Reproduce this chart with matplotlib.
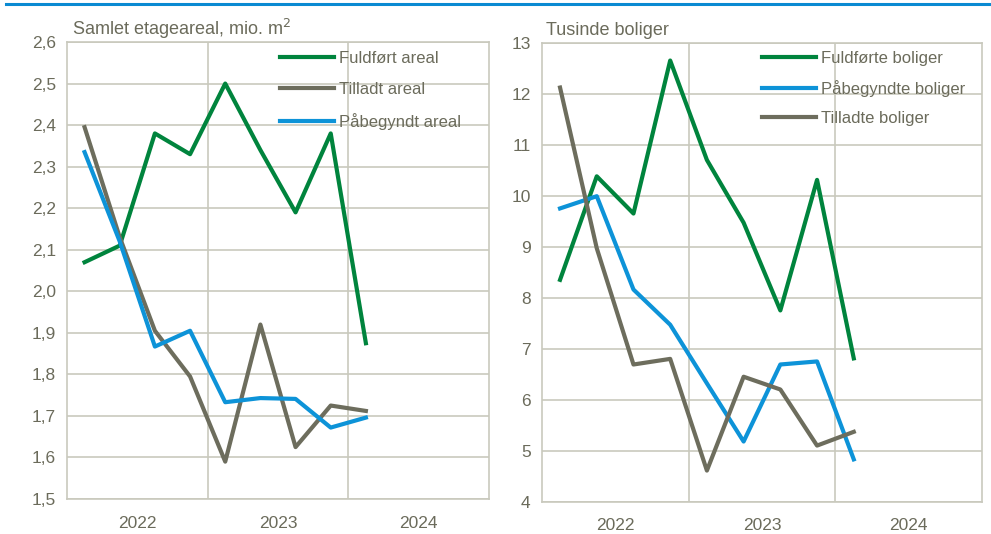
import matplotlib
matplotlib.use('Agg')
import matplotlib.pyplot as plt
import numpy as np

# data: quarters 2022K1 .. 2024K1
years = ['2022', '2023', '2024']
fuldfoert_areal = [2.07, 2.11, 2.38, 2.33, 2.50, 2.34, 2.19, 2.38, 1.875]
tilladt_areal = [2.395, 2.13, 1.905, 1.795, 1.59, 1.92, 1.625, 1.725, 1.712]
paabegyndt_areal = [2.335, 2.12, 1.867, 1.905, 1.733, 1.743, 1.741, 1.672, 1.696]

fuldfoerte_boliger = [8.35, 10.38, 9.65, 12.65, 10.70, 9.47, 7.75, 10.31, 6.81]
paabegyndte_boliger = [9.75, 9.99, 8.16, 7.47, 6.32, 5.18, 6.69, 6.75, 4.83]
tilladte_boliger = [12.12, 8.97, 6.69, 6.80, 4.61, 6.45, 6.20, 5.10, 5.37]

green = '#00843d'
grey = '#6d6d5d'
blue = '#0d93d8'
txt = '#6b6b5b'
gridc = '#c9c9bd'

plt.rcParams['font.family'] = ['Liberation Sans', 'DejaVu Sans']

fig = plt.figure(figsize=(9.91, 5.34), dpi=100)
# thin blue rule at the top
fig.add_artist(plt.Line2D([0.006, 1.0], [0.993, 0.993], color='#0a8ad2', lw=2.2))

ax1 = fig.add_axes([0.0676, 0.0655, 0.4258, 0.8558])
ax2 = fig.add_axes([0.5466, 0.0605, 0.4446, 0.8596])

x = np.arange(len(fuldfoert_areal)) + 0.5


def style(ax, ymin, ymax, step, fmt):
    ax.set_xlim(0, 12)
    ax.set_ylim(ymin, ymax)
    yt = np.arange(ymin, ymax + step / 2, step)
    ax.set_yticks(yt)
    ax.set_yticklabels([fmt(v) for v in yt])
    ax.set_xticks([2, 6, 10])
    ax.set_xticklabels(years)
    ax.set_xticks([4, 8], minor=True)
    ax.tick_params(which='both', length=0, colors=txt, labelsize=12.5)
    ax.tick_params(axis='x', pad=12)
    ax.tick_params(axis='y', pad=8)
    ax.grid(axis='y', color=gridc, lw=1.2)
    ax.grid(axis='x', which='minor', color=gridc, lw=1.2)
    for s in ax.spines.values():
        s.set_color(gridc)
        s.set_linewidth(1.2)
    ax.set_axisbelow(True)


style(ax1, 1.5, 2.6, 0.1, lambda v: f'{v:.1f}'.replace('.', ','))
style(ax2, 4, 13, 1, lambda v: f'{v:.0f}')

ax1.plot(x, fuldfoert_areal, color=green, lw=3, label='Fuldført areal')
ax1.plot(x, tilladt_areal, color=grey, lw=3, label='Tilladt areal')
ax1.plot(x, paabegyndt_areal, color=blue, lw=3, label='Påbegyndt areal')

ax2.plot(x, fuldfoerte_boliger, color=green, lw=3, label='Fuldførte boliger')
ax2.plot(x, paabegyndte_boliger, color=blue, lw=3, label='Påbegyndte boliger')
ax2.plot(x, tilladte_boliger, color=grey, lw=3, label='Tilladte boliger')

for ax, bx, by, sp in ((ax1, 0.505, 0.98, 0.95), (ax2, 0.50, 0.982, 0.85)):
    leg = ax.legend(loc='upper left', bbox_to_anchor=(bx, by), frameon=False,
                    fontsize=12, handlelength=3.25, handletextpad=0.3,
                    labelspacing=sp, borderaxespad=0, borderpad=0)
    for t in leg.get_texts():
        t.set_color(txt)

fig.text(0.073, 0.935, 'Samlet etageareal, mio. m$^2$', color=txt, fontsize=13)
fig.text(0.551, 0.935, 'Tusinde boliger', color=txt, fontsize=13)

fig.savefig('out.png', dpi=100)
